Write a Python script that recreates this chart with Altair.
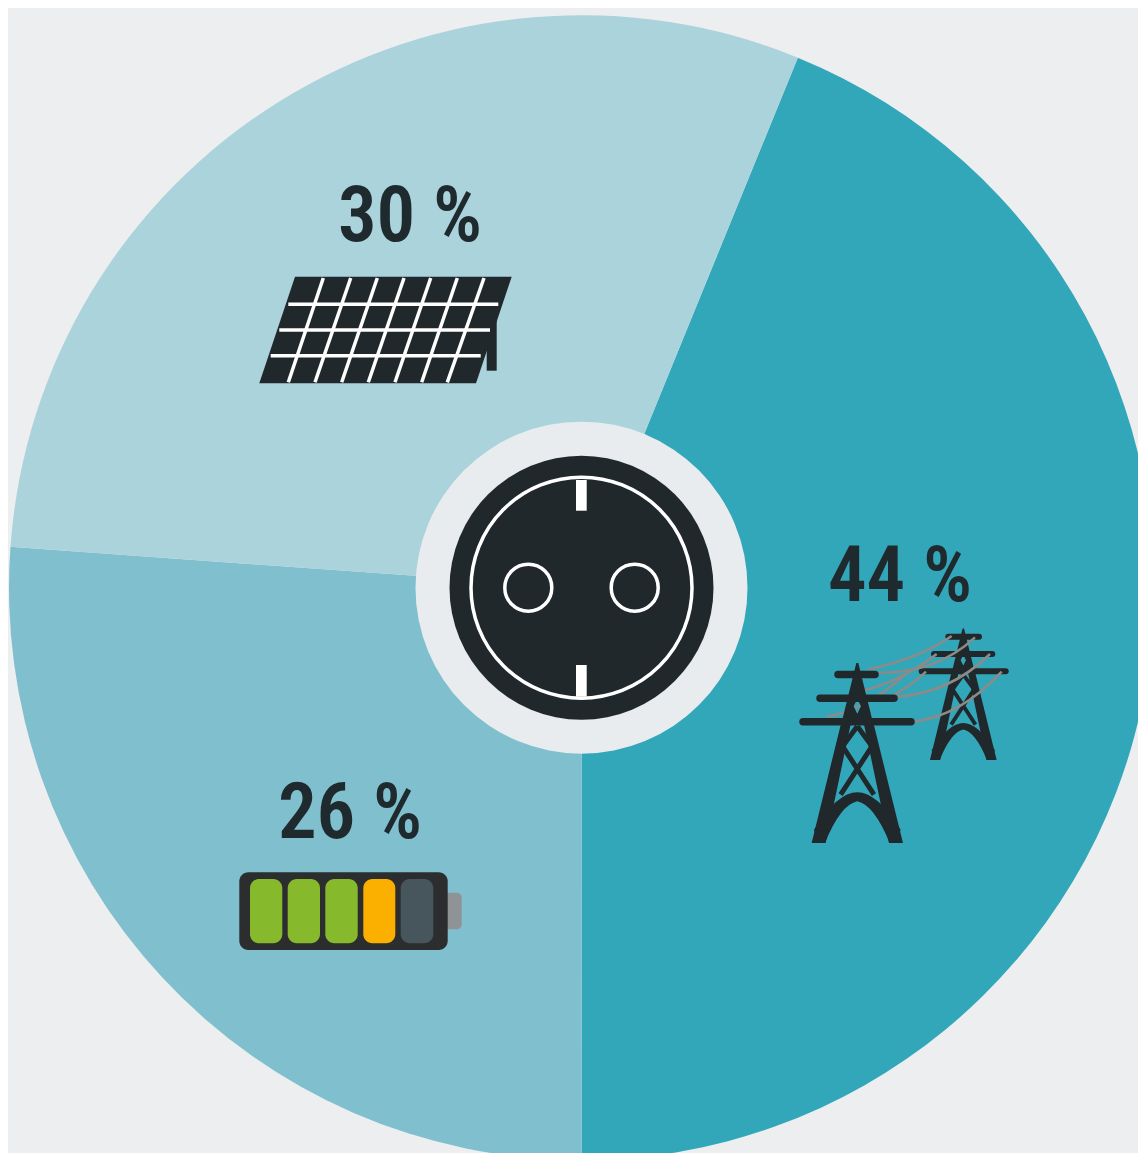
import math
import altair as alt
import pandas as pd

W, H = 1130, 1145
BG = "#eceef0"
INK = "#21282b"

shares = [43.83, 26.14, 30.03]
share_labels = ["44 %", "26 %", "30 %"]
slice_colors = ["#33a7ba", "#80c0ce", "#abd3dc"]
start_deg = 22.2
center_x, center_y = [581.5], [587.7]
label_x = [900, 350, 410]
label_y = [600.5, 838, 241]

xs = alt.Scale(domain=[8, 8 + W], nice=False, zero=False)
ys = alt.Scale(domain=[8 + H, 8], nice=False, zero=False)


def X(f="x"):
    return alt.X(f"{f}:Q", scale=xs, axis=None)


def Y(f="y"):
    return alt.Y(f"{f}:Q", scale=ys, axis=None)


def rects(x, x2, y, y2, color, radius=0):
    df = pd.DataFrame({"x": x, "x2": x2, "y": y, "y2": y2})
    return alt.Chart(df).mark_rect(color=color, cornerRadius=radius).encode(
        x=X(), x2="x2:Q", y=Y(), y2="y2:Q"
    )


def rules(x, x2, y, y2, color, width, cap="butt"):
    df = pd.DataFrame({"x": x, "x2": x2, "y": y, "y2": y2})
    return alt.Chart(df).mark_rule(color=color, strokeWidth=width, strokeCap=cap).encode(
        x=X(), x2="x2:Q", y=Y(), y2="y2:Q"
    )


def dot(x, y, diameter, color, stroke=None):
    df = pd.DataFrame({"x": x, "y": y})
    if stroke:
        m = alt.Chart(df).mark_point(filled=False, color=color, strokeWidth=stroke,
                                     size=diameter ** 2, opacity=1)
    else:
        m = alt.Chart(df).mark_point(filled=True, color=color, size=diameter ** 2, opacity=1)
    return m.encode(x=X(), y=Y())


def glyph(x, y, path, scale, color, stroke=None):
    df = pd.DataFrame({"x": [x], "y": [y]})
    size = 4 * scale ** 2
    if stroke:
        m = alt.Chart(df).mark_point(shape=path, filled=False, color=color, strokeWidth=stroke,
                                     size=size, opacity=1)
    else:
        m = alt.Chart(df).mark_point(shape=path, filled=True, color=color, size=size, opacity=1)
    return m.encode(x=X(), y=Y())


pie_df = pd.DataFrame({"share": shares, "label": share_labels, "idx": [0, 1, 2]})
start = math.radians(start_deg)
pie = alt.Chart(pie_df).mark_arc(outerRadius=572.5, innerRadius=0).encode(
    theta=alt.Theta("share:Q", stack="zero",
                    scale=alt.Scale(domain=[0, 100], range=[start, start + 2 * math.pi])),
    order=alt.Order("idx:Q"),
    color=alt.Color("label:N", scale=alt.Scale(domain=share_labels, range=slice_colors), legend=None),
    x=alt.X("cx:Q", scale=xs, axis=None),
    y=alt.Y("cy:Q", scale=ys, axis=None),
).transform_calculate(cx=str(center_x[0]), cy=str(center_y[0]))

label_df = pd.DataFrame({"x": label_x, "y": label_y, "t": share_labels})
labels = alt.Chart(label_df).mark_text(
    font="Roboto Condensed, Open Sans Condensed, Noto Sans Condensed, Roboto",
    fontSize=77, fontWeight=600, color="#1f2a2e",
    align="center", baseline="alphabetic",
).encode(x=X(), y=Y(), text="t:N")

# Socket
socket = [
    dot(center_x, center_y, 332, "#e9ecee"),
    dot(center_x, center_y, 264, INK),
    dot(center_x, center_y, 221, "#ffffff", stroke=3.5),
    dot([528.3, 634.7], [587.7, 587.7], 47, "#ffffff", stroke=3.5),
    rects([576, 576], [586.7, 586.7], [480, 665], [510.7, 696.7], "#ffffff"),
]

# Solar panel
panel_path = "M-90.5,-53.3 L126.2,-53.3 L90.5,53.3 L-126.2,53.3 Z"
hl_x = [288.3, 279.3, 270.7]
hl_x2 = [498.3, 490, 480.7]
hl_y = [304.3, 330, 355.7]
sl_top = [323.3, 350.7, 377.3, 404, 430.7, 457.3, 484]
sl_bot = [288.3, 315, 341.7, 368.3, 395, 421.7, 447.3]
solar = [
    rects([486.7], [496.7], [320], [370.7], INK),
    glyph(385.5, 330, panel_path, 1, INK),
    rules(hl_x, hl_x2, hl_y, hl_y, "#ffffff", 3.5),
    rules(sl_top, sl_bot, [278] * 7, [382.3] * 7, "#ffffff", 3.5),
]

# Battery
cell_x = [250, 287.7, 325.3, 363.3, 400.7]
cell_x2 = [282.3, 320, 357.7, 395.3, 433.3]
cell_colors = ["#86b92c", "#86b92c", "#86b92c", "#fbb000", "#47555c"]
battery = [
    rects([440], [461.7], [892.7], [929.3], "#8f9395", 5),
    rects([239.3], [447.7], [872.3], [950], "#2b2d2e", 9),
]
for a, b, c in zip(cell_x, cell_x2, cell_colors):
    battery.append(rects([a], [b], [879], [943.3], c, 9))

# Pylons: local path units are 1/3 px, origin at the apex
upper_path = "M-3,0 L3,0 L46,175 L-46,175 Z M0,108 L-11,130 L0,152 L11,130 Z"
legs_path = ("M-46,170 L-17,170 L-95,540 L-137,540 Z "
             "M17,170 L46,170 L137,540 L95,540 Z")
arch_path = "M-130,500 Q-60,388 0,388 Q60,388 130,500 L118,540 L97,540 Q50,425 0,415 Q-50,425 -97,540 L-118,540 Z"
strut_path = "M0,190 L-44,250 L50,395 M0,190 L44,250 L-50,395"


def pylon(x, y, scale, sw):
    return [
        glyph(x, y, upper_path, scale / 3, INK),
        glyph(x, y, legs_path, scale / 3, INK),
        glyph(x, y, arch_path, scale / 3, INK),
        glyph(x, y, strut_path, scale / 3, INK, stroke=sw),
    ]


wire_path = ("M265,418 Q420,385 515,318 M295,428 Q470,430 585,322 "
             "M250,482 Q370,450 470,372 M340,495 Q390,470 438,425 "
             "M350,500 Q510,490 630,372 M140,560 Q260,540 380,430 "
             "M400,575 Q540,560 665,425")

small_arms = rules([948.3, 934, 921.7], [979, 992.3, 1005.7], [636.7, 654, 671.3],
                   [636.7, 654, 671.3], INK, 6, "round")
big_arms = rules([838, 820, 803], [875, 894, 911], [674.5, 698.3, 721.7],
                 [674.5, 698.3, 721.7], INK, 7.5, "round")
towers = (
    pylon(963.3, 628.5, 0.73, 3.8)
    + [small_arms]
    + [glyph(780, 530, wire_path, 1 / 3, "#8d8a88", stroke=2.5)]
    + pylon(857.3, 663, 1, 5)
    + [big_arms]
)

chart = alt.layer(pie, *socket, *solar, *battery, *towers, labels).properties(
    width=W, height=H, background=BG, padding=0,
    autosize=alt.AutoSizeParams(type="none"),
).configure_view(stroke=None)

chart.save("out.html", embed_options={"renderer": "svg", "actions": False})
